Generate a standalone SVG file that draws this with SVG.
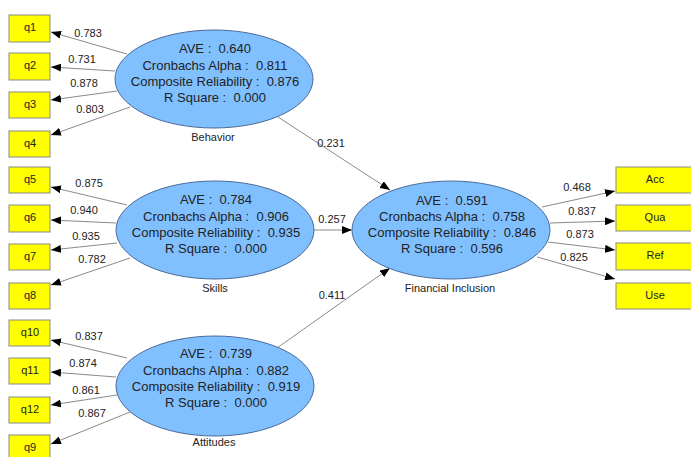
<svg xmlns="http://www.w3.org/2000/svg" width="691" height="457" viewBox="0 0 691 457">
<style>
text{font-family:"Liberation Sans",Arial,sans-serif;fill:#222;}
.lv{fill:#80C0FF;stroke:#4a6a9a;stroke-width:1;}
.mv{fill:#FFFF00;stroke:#8a8a8a;stroke-width:1;}
.st{font-size:13px;text-anchor:middle;}
.nl{font-size:11px;text-anchor:middle;}
.bx{font-size:11px;text-anchor:middle;}
.cl{font-size:11px;text-anchor:middle;}
.cn line{stroke:#8a8a8a;stroke-width:1;marker-end:url(#ah);}
</style>
<defs>
<marker id="ah" viewBox="0 0 10 8" refX="10" refY="4" markerWidth="10" markerHeight="8" markerUnits="userSpaceOnUse" orient="auto">
<path d="M0,0 L10,4 L0,8 Z" fill="#000"/>
</marker>
</defs>
<rect width="691" height="457" fill="#fff"/>
<g id="connectors" class="cn">
<line x1="127" y1="54" x2="51" y2="32"/>
<line x1="115" y1="71" x2="51" y2="67"/>
<line x1="117" y1="91" x2="51" y2="100"/>
<line x1="130" y1="107" x2="51" y2="135"/>
<line x1="127" y1="205" x2="51" y2="187"/>
<line x1="116" y1="223" x2="51" y2="220"/>
<line x1="117" y1="243" x2="51" y2="250"/>
<line x1="130" y1="258" x2="51" y2="285"/>
<line x1="127" y1="358" x2="51" y2="340"/>
<line x1="116" y1="377" x2="51" y2="372"/>
<line x1="117" y1="395" x2="51" y2="405"/>
<line x1="130" y1="412" x2="51" y2="444"/>
<line x1="278" y1="117" x2="390" y2="190"/>
<line x1="314" y1="230" x2="352" y2="230"/>
<line x1="277" y1="348" x2="390" y2="268"/>
<line x1="542" y1="207" x2="615" y2="191"/>
<line x1="550" y1="223" x2="615" y2="221"/>
<line x1="548" y1="242" x2="615" y2="250"/>
<line x1="537" y1="257" x2="615" y2="279"/>
<text class="cl" x="88" y="37">0.783</text>
<text class="cl" x="82" y="63">0.731</text>
<text class="cl" x="84" y="87">0.878</text>
<text class="cl" x="90" y="113">0.803</text>
<text class="cl" x="89" y="187">0.875</text>
<text class="cl" x="84" y="214">0.940</text>
<text class="cl" x="86" y="240">0.935</text>
<text class="cl" x="92" y="263">0.782</text>
<text class="cl" x="89" y="340">0.837</text>
<text class="cl" x="83" y="367">0.874</text>
<text class="cl" x="86" y="394">0.861</text>
<text class="cl" x="92" y="417">0.867</text>
<text class="cl" x="331" y="147">0.231</text>
<text class="cl" x="332" y="223">0.257</text>
<text class="cl" x="332" y="299">0.411</text>
<text class="cl" x="577" y="191">0.468</text>
<text class="cl" x="582" y="215">0.837</text>
<text class="cl" x="580" y="238">0.873</text>
<text class="cl" x="574" y="261">0.825</text>
</g>
<g id="q1"><rect class="mv" x="9" y="15" width="41" height="27"/><text class="bx" x="30" y="31">q1</text></g>
<g id="q2"><rect class="mv" x="9" y="53" width="41" height="27"/><text class="bx" x="30" y="69">q2</text></g>
<g id="q3"><rect class="mv" x="9" y="92" width="41" height="26"/><text class="bx" x="30" y="108">q3</text></g>
<g id="q4"><rect class="mv" x="9" y="131" width="41" height="26"/><text class="bx" x="30" y="147">q4</text></g>
<g id="q5"><rect class="mv" x="9" y="167" width="41" height="26"/><text class="bx" x="30" y="183">q5</text></g>
<g id="q6"><rect class="mv" x="9" y="205" width="41" height="27"/><text class="bx" x="30" y="221">q6</text></g>
<g id="q7"><rect class="mv" x="9" y="244" width="41" height="26"/><text class="bx" x="30" y="260">q7</text></g>
<g id="q8"><rect class="mv" x="9" y="283" width="41" height="26"/><text class="bx" x="30" y="299">q8</text></g>
<g id="q10"><rect class="mv" x="9" y="320" width="41" height="26"/><text class="bx" x="30" y="336">q10</text></g>
<g id="q11"><rect class="mv" x="9" y="358" width="41" height="26"/><text class="bx" x="30" y="374">q11</text></g>
<g id="q12"><rect class="mv" x="9" y="397" width="41" height="26"/><text class="bx" x="30" y="413">q12</text></g>
<g id="q9"><rect class="mv" x="9" y="435" width="41" height="26"/><text class="bx" x="30" y="451">q9</text></g>
<g id="Acc"><rect class="mv" x="616" y="167" width="78" height="26"/><text class="bx" x="655" y="183">Acc</text></g>
<g id="Qua"><rect class="mv" x="616" y="205" width="78" height="26"/><text class="bx" x="655" y="221">Qua</text></g>
<g id="Ref"><rect class="mv" x="616" y="243" width="78" height="27"/><text class="bx" x="655" y="259">Ref</text></g>
<g id="Use"><rect class="mv" x="616" y="283" width="78" height="26"/><text class="bx" x="655" y="299">Use</text></g>
<g id="Behavior">
<ellipse class="lv" cx="214" cy="79" rx="99" ry="49"/>
<text class="st" x="215" y="53">AVE :&#160; 0.640</text>
<text class="st" x="215" y="70">Cronbachs Alpha :&#160; 0.811</text>
<text class="st" x="215" y="86">Composite Reliability :&#160; 0.876</text>
<text class="st" x="215" y="102">R Square :&#160; 0.000</text>
<text class="nl" x="213" y="141">Behavior</text>
</g>
<g id="Skills">
<ellipse class="lv" cx="215" cy="230" rx="99" ry="49"/>
<text class="st" x="216" y="204">AVE :&#160; 0.784</text>
<text class="st" x="216" y="221">Cronbachs Alpha :&#160; 0.906</text>
<text class="st" x="216" y="237">Composite Reliability :&#160; 0.935</text>
<text class="st" x="216" y="253">R Square :&#160; 0.000</text>
<text class="nl" x="215" y="292">Skills</text>
</g>
<g id="Attitudes">
<ellipse class="lv" cx="215" cy="386" rx="99" ry="50"/>
<text class="st" x="216" y="358">AVE :&#160; 0.739</text>
<text class="st" x="216" y="375">Cronbachs Alpha :&#160; 0.882</text>
<text class="st" x="216" y="391">Composite Reliability :&#160; 0.919</text>
<text class="st" x="216" y="407">R Square :&#160; 0.000</text>
<text class="nl" x="214" y="446">Attitudes</text>
</g>
<g id="FinancialInclusion">
<ellipse class="lv" cx="451" cy="230" rx="99" ry="49"/>
<text class="st" x="452" y="205">AVE :&#160; 0.591</text>
<text class="st" x="452" y="221">Cronbachs Alpha :&#160; 0.758</text>
<text class="st" x="452" y="237">Composite Reliability :&#160; 0.846</text>
<text class="st" x="452" y="253">R Square :&#160; 0.596</text>
<text class="nl" x="450" y="292">Financial Inclusion</text>
</g>
</svg>
